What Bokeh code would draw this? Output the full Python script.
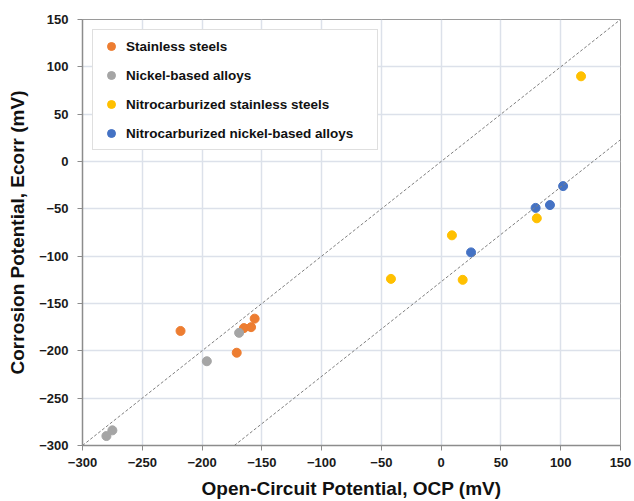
from bokeh.plotting import figure
from bokeh.models import ColumnDataSource, Slope, Legend, LegendItem, FixedTicker
from bokeh.embed import file_html
from bokeh.resources import INLINE

# Data (OCP, Ecorr in mV)
ss_ocp = [-218, -171, -165, -159, -156]
ss_ecorr = [-179, -202, -176, -175, -166]

ni_ocp = [-169, -196, -275, -280]
ni_ecorr = [-181, -211, -284, -290]

nss_ocp = [117, 9, 80, 18, -42]
nss_ecorr = [90, -78, -60, -125, -124]

nni_ocp = [102, 79, 91, 25]
nni_ecorr = [-26, -49, -46, -96]

series_names = ["Stainless steels", "Nickel-based alloys",
                "Nitrocarburized stainless steels", "Nitrocarburized nickel-based alloys"]
series_colors = ["#ED7D31", "#A5A5A5", "#FFC000", "#4472C4"]

ticks = [-300, -250, -200, -150, -100, -50, 0, 50, 100, 150]
ref_intercepts = [0, -127]

FONT = "Liberation Sans"

p = figure(width=634, height=501, x_range=(-300, 150), y_range=(-300, 150),
           output_backend="svg", toolbar_location=None,
           min_border_left=82, min_border_right=14, min_border_top=19, min_border_bottom=56)

p.xaxis.ticker = FixedTicker(ticks=ticks)
p.yaxis.ticker = FixedTicker(ticks=ticks)
for ax in (p.xaxis[0], p.yaxis[0]):
    ax.major_label_text_font = FONT
    ax.major_label_text_font_style = "bold"
    ax.major_label_text_font_size = "13px"
    ax.major_label_text_color = "#1A1A1A"
    ax.axis_line_color = "#8C8C8C"
    ax.axis_line_width = 1.5
    ax.major_tick_line_color = "#8C8C8C"
    ax.major_tick_out = 5
    ax.major_tick_in = 0
    ax.minor_tick_line_color = None
    ax.axis_label_text_font = FONT
    ax.axis_label_text_font_style = "bold"
    ax.axis_label_text_font_size = "19px"
    ax.axis_label_text_color = "#111111"
p.xaxis.axis_label = "Open-Circuit Potential, OCP (mV)"
p.yaxis.axis_label = "Corrosion Potential, Ecorr (mV)"
p.xaxis.major_label_standoff = 7
p.yaxis.major_label_standoff = 9
p.xaxis.axis_label_standoff = 8
p.yaxis.axis_label_standoff = 8

p.xgrid.grid_line_color = "#DCE1EA"
p.ygrid.grid_line_color = "#DCE1EA"
p.xgrid.grid_line_width = 1.5
p.ygrid.grid_line_width = 1.5
p.outline_line_color = "#9A9A9A"
p.outline_line_width = 1

for b in ref_intercepts:
    p.add_layout(Slope(gradient=1, y_intercept=b, line_color="#7F7F7F",
                       line_dash="3 2", line_width=1))

items = []
for name, color, xs, ys in zip(series_names, series_colors,
                               [ss_ocp, ni_ocp, nss_ocp, nni_ocp],
                               [ss_ecorr, ni_ecorr, nss_ecorr, nni_ecorr]):
    src = ColumnDataSource(dict(x=xs, y=ys))
    r = p.scatter("x", "y", source=src, size=9, fill_color=color, line_color=color)
    items.append(LegendItem(label=name, renderers=[r]))

legend = Legend(items=items, location=(10, 295))
legend.label_text_font = FONT
legend.label_text_font_style = "bold"
legend.label_text_font_size = "13.5px"
legend.label_text_color = "#111111"
legend.border_line_color = "#BFBFBF"
legend.border_line_width = 1
legend.background_fill_color = "white"
legend.background_fill_alpha = 1
legend.glyph_width = 24
legend.glyph_height = 20
legend.label_height = 20
legend.label_width = 245
legend.spacing = 9
legend.padding = 6
legend.margin = 0
legend.label_standoff = 3
p.add_layout(legend)

open("out.html", "w").write(file_html(p, INLINE))
